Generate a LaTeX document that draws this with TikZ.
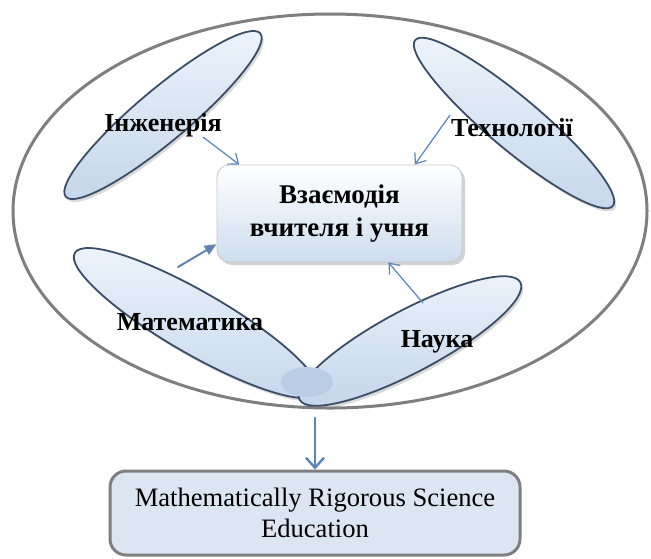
\documentclass[tikz,border=0pt]{standalone}
\usepackage{fontspec}
\setmainfont{Liberation Serif}
\usetikzlibrary{shapes.geometric,arrows.meta,shadows}
\definecolor{rimgray}{HTML}{7F7F7F}
\definecolor{petalline}{HTML}{3C4D66}
\definecolor{petalfill}{HTML}{C5D7EC}
\definecolor{petaltop}{HTML}{EEF4FB}
\definecolor{linkblue}{HTML}{5B85BD}
\definecolor{hubfill}{HTML}{B9CDE5}
\definecolor{resfill}{HTML}{DCE6F2}
\tikzset{
  petal/.style={ellipse, draw=petalline, line width=0.9pt, inner sep=0pt,
    top color=petaltop, bottom color=petalfill,
    drop shadow={opacity=0.3, shadow xshift=1pt, shadow yshift=-1.5pt}},
  lbl/.style={font=\fontsize{13}{15}\selectfont\bfseries, inner sep=1pt},
  link/.style={draw=linkblue, line width=0.6pt, -{Straight Barb[length=4.5pt,width=7pt]}},
}
\begin{document}
\begin{tikzpicture}[x=0.5pt,y=-0.5pt,line join=round,line cap=round]
  \useasboundingbox (0,0) rectangle (651,558);

  % velykyi ovál
  \node[ellipse, draw=rimgray, line width=1.5pt, minimum width=317pt,
        minimum height=197pt, inner sep=0pt] (outer) at (330,211) {};

  % pelustky
  \node[petal, rotate=40,  minimum width=127pt, minimum height=26pt] (inz) at (163,115) {};
  \node[petal, rotate=-40, minimum width=129pt, minimum height=26pt] (tech) at (514,123) {};
  \node[petal, rotate=-30, minimum width=140pt, minimum height=31pt] (mat) at (196,323) {};
  \node[petal, rotate=28,  minimum width=125pt, minimum height=31pt] (nauka) at (410,341) {};

  % centr
  \node[ellipse, fill=hubfill, minimum width=26pt, minimum height=15pt, inner sep=0pt] (hub) at (307,382) {};

  % holovnyi blok
  \node[draw=black!22, rounded corners=6pt, top color=white, bottom color=petalfill!85,
        minimum width=122.5pt, minimum height=48.5pt, align=center,
        font=\fontsize{13.5}{16.5}\selectfont\bfseries,
        drop shadow={opacity=0.35, shadow xshift=1.5pt, shadow yshift=-1.5pt}]
        (box) at (339.5,213.5) {Взаємодія\\вчителя і учня};

  % pidpysy
  \node[lbl] (inzT)   at (163,125) {Інженерія};
  \node[lbl] (techT)  at (512,128) {Технології};
  \node[lbl] (matT)   at (190,322) {Математика};
  \node[lbl] (naukaT) at (437,342) {Наука};

  % strilky do bloku
  \coordinate (inzA)   at (203,137);
  \coordinate (techA)  at (450,115);
  \coordinate (matA)   at (178,267);
  \coordinate (naukaA) at (423,303);
  \draw[link] (inzA) -- (box.154);
  \draw[link] (techA) -- (box.33);
  \draw[draw=linkblue!80!gray, line width=1pt, -{Triangle[length=6pt,width=5pt]}] (matA) -- (box.194);
  \draw[link] (naukaA) -- (box.-45);

  % vysledok
  \node[draw=rimgray, line width=1.5pt, rounded corners=8pt, fill=resfill,
        minimum width=205pt, minimum height=42pt, align=center,
        font=\fontsize{13.3}{15.5}\selectfont] (res) at (315,513)
        {Mathematically Rigorous Science\\Education};
  \coordinate (down) at (315,418);
  \draw[draw=linkblue, line width=1.2pt, -{Straight Barb[length=5pt,width=9pt]}] (down) -- (res.north);
\end{tikzpicture}
\end{document}
